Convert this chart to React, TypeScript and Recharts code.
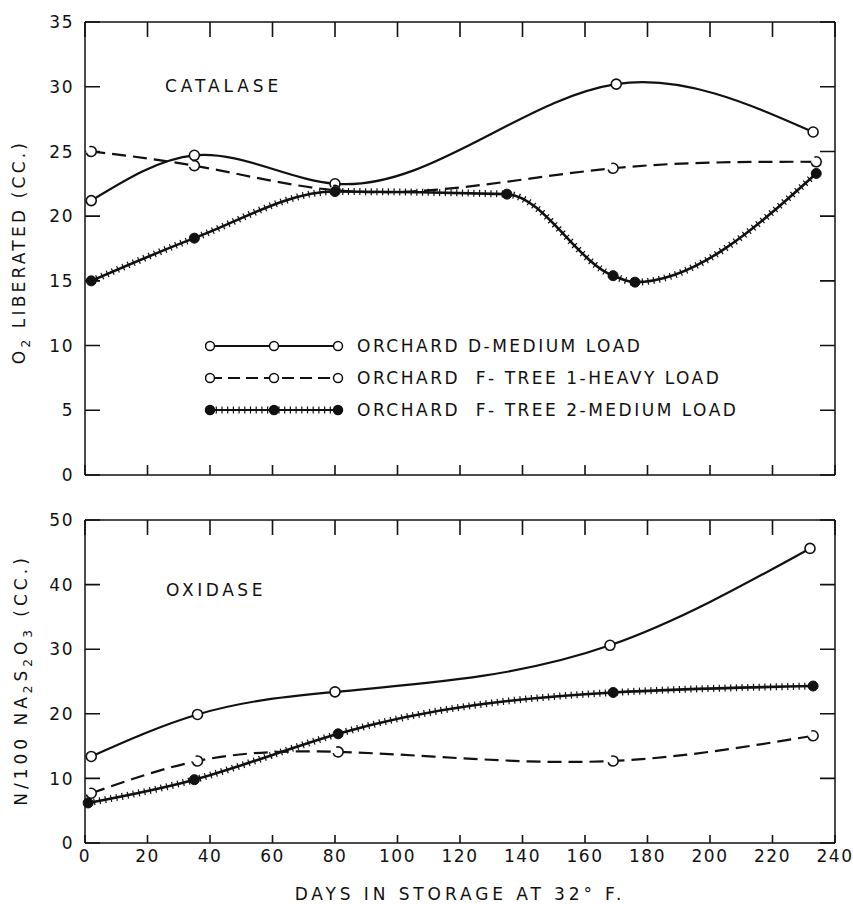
import React from 'react';
import { LineChart, Line, XAxis, YAxis, Legend, Customized } from 'recharts';

const FONT = '"DejaVu Sans", "Liberation Sans", sans-serif';
const INK = '#111';

// ---- axis ticks ----
const dayTicks = [0, 20, 40, 60, 80, 100, 120, 140, 160, 180, 200, 220, 240];
const catalaseTicks = [0, 5, 10, 15, 20, 25, 30, 35];
const oxidaseTicks = [0, 10, 20, 30, 40, 50];

// ---- CATALASE (O2 liberated, cc.) ----
const catDDays = [2, 35, 80, 170, 233];
const catDValues = [21.2, 24.7, 22.5, 30.2, 26.5];
const catF1Days = [2, 35, 80, 169, 234];
const catF1Values = [25.0, 23.9, 22.0, 23.7, 24.2];
const catF2Days = [2, 35, 80, 135, 169, 176, 234];
const catF2Values = [15.0, 18.3, 21.9, 21.7, 15.4, 14.9, 23.3];

// ---- OXIDASE (N/100 Na2S2O3, cc.) ----
const oxDDays = [2, 36, 80, 168, 232];
const oxDValues = [13.4, 19.9, 23.4, 30.6, 45.6];
const oxF1Days = [2, 36, 81, 169, 233];
const oxF1Values = [7.7, 12.7, 14.1, 12.7, 16.6];
const oxF2Days = [1, 35, 81, 169, 233];
const oxF2Values = [6.2, 9.8, 16.9, 23.3, 24.3];

const legendLabels = [
  'ORCHARD D-MEDIUM LOAD',
  'ORCHARD  F- TREE 1-HEAVY LOAD',
  'ORCHARD  F- TREE 2-MEDIUM LOAD',
];

const zip = (days: number[], vals: number[]) => days.map((day, i) => ({ day, value: vals[i] }));

const catD = zip(catDDays, catDValues);
const catF1 = zip(catF1Days, catF1Values);
const catF2 = zip(catF2Days, catF2Values);
const oxD = zip(oxDDays, oxDValues);
const oxF1 = zip(oxF1Days, oxF1Values);
const oxF2 = zip(oxF2Days, oxF2Values);

// ---- layout (chart margins + axis sizes) ----
const CHART_W = 853;
const M_LEFT = 25, M_RIGHT = 8, Y_W = 60, YR_W = 10, XT_H = 10;
const PLOT_L = M_LEFT + Y_W;
const PLOT_R = CHART_W - M_RIGHT - YR_W;
const TOP_H = 495, TOP_M = { top: 12, right: M_RIGHT, bottom: 5, left: M_LEFT }, TOP_XB_H = 15;
const BOT_H = 414, BOT_M = { top: 20, right: M_RIGHT, bottom: 11, left: M_LEFT }, BOT_XB_H = 50;

// natural cubic spline y(x) (smooth hand-drawn style curve through the points)
const xSpline = (context: any) => {
  let xs: number[] = [];
  let ys: number[] = [];
  return {
    areaStart() {},
    areaEnd() {},
    lineStart() { xs = []; ys = []; },
    point(x: number, y: number) { xs.push(+x); ys.push(+y); },
    lineEnd() {
      const n = xs.length;
      if (n === 0) return;
      context.moveTo(xs[0], ys[0]);
      if (n === 1) return;
      if (n === 2) { context.lineTo(xs[1], ys[1]); return; }
      const h: number[] = [];
      for (let i = 0; i < n - 1; i++) h[i] = xs[i + 1] - xs[i];
      const m: number[] = new Array(n).fill(0);
      const b: number[] = [], c: number[] = [], a: number[] = [], r: number[] = [];
      for (let i = 1; i < n - 1; i++) {
        a[i] = h[i - 1];
        b[i] = 2 * (h[i - 1] + h[i]);
        c[i] = h[i];
        r[i] = 6 * ((ys[i + 1] - ys[i]) / h[i] - (ys[i] - ys[i - 1]) / h[i - 1]);
      }
      for (let i = 2; i < n - 1; i++) {
        const w = a[i] / b[i - 1];
        b[i] -= w * c[i - 1];
        r[i] -= w * r[i - 1];
      }
      m[n - 2] = r[n - 2] / b[n - 2];
      for (let i = n - 3; i >= 1; i--) m[i] = (r[i] - c[i] * m[i + 1]) / b[i];
      for (let i = 0; i < n - 1; i++) {
        const hi = h[i];
        const s = (ys[i + 1] - ys[i]) / hi;
        const d0 = s - (hi * (2 * m[i] + m[i + 1])) / 6;
        const d1 = s + (hi * (m[i] + 2 * m[i + 1])) / 6;
        context.bezierCurveTo(xs[i] + hi / 3, ys[i] + (d0 * hi) / 3, xs[i + 1] - hi / 3, ys[i + 1] - (d1 * hi) / 3, xs[i + 1], ys[i + 1]);
      }
    },
  };
};

const openDot = { r: 5, fill: '#fff', stroke: INK, strokeWidth: 1.6 };
const filledDot = { r: 5, fill: INK, stroke: INK, strokeWidth: 1 };
const axisLine = { stroke: INK, strokeWidth: 1.5 };

// custom tick labels: tickSize 0 and tickMargin 11, so the axis line lies 11px from (x, y)
const LeftTick = (p: any) => {
  const px = Number(p.x);
  const py = Number(p.y);
  return (
    <text x={px} y={py} dy="0.36em" textAnchor="end" fontFamily={FONT} fontSize={17}
      letterSpacing={1.5} fill={INK}>{p.payload.value}</text>
  );
};
const BottomTickBare = (p: any) => {
  const px = Number(p.x);
  const py = Number(p.y);
  return (
    <g>
      <path d={`M${px},${py - 11}v-10`} stroke={INK} strokeWidth={1.6} fill="none" />
    </g>
  );
};
const BottomTickLabel = (p: any) => {
  const px = Number(p.x);
  const py = Number(p.y);
  return (
    <g>
      <path d={`M${px},${py - 11}v-8`} stroke={INK} strokeWidth={1.6} fill="none" />
      <text x={px} y={py + 8} textAnchor="middle" fontFamily={FONT} fontSize={17}
        letterSpacing={1.5} fill={INK}>{p.payload.value}</text>
    </g>
  );
};

// inward frame tick marks on the left, right and top edges of a panel
const frameTickMarks = (plotTop: number, plotBottom: number, yTicks: number[], yMax: number) => {
  const yPos = (v: number) => plotBottom - (v / yMax) * (plotBottom - plotTop);
  const xPos = (d: number) => PLOT_L + (d / 240) * (PLOT_R - PLOT_L);
  const parts: string[] = [];
  yTicks.forEach((v) => {
    const y = yPos(v);
    parts.push(`M${PLOT_L},${y}h15`);
    parts.push(`M${PLOT_R},${y}h-15`);
  });
  dayTicks.forEach((d) => {
    parts.push(`M${xPos(d)},${plotTop}v15`);
  });
  return <path d={parts.join('')} stroke={INK} strokeWidth={1.6} fill="none" />;
};

const LegendMarker = ({ kind }: { kind: number }) => {
  const dot = kind === 2 ? { fill: INK } : { fill: '#fff' };
  return (
    <svg width={140} height={16} style={{ display: 'block' }}>
      <line x1={5} x2={133} y1={8} y2={8} stroke={INK} strokeWidth={2}
        strokeDasharray={kind === 1 ? '12 6' : undefined} />
      {kind === 2 && (
        <line x1={5} x2={133} y1={8} y2={8} stroke={INK} strokeWidth={7} strokeDasharray="1.2 4.5" />
      )}
      {[5, 69, 133].map((cx) => (
        <circle key={cx} cx={cx} cy={8} r={4.5} stroke={INK} strokeWidth={1.5} {...dot} />
      ))}
    </svg>
  );
};

const renderLegend = () => (
  <div style={{ fontFamily: FONT }}>
    {legendLabels.map((lab, i) => (
      <div key={lab} style={{ display: 'flex', alignItems: 'center', height: 20, marginBottom: 12 }}>
        <LegendMarker kind={i} />
        <span style={{ marginLeft: 12, fontSize: 17, letterSpacing: 2.5, color: INK, whiteSpace: 'pre', lineHeight: '20px' }}>{lab}</span>
      </div>
    ))}
  </div>
);

const TOP_PLOT_TOP = TOP_M.top + XT_H;
const TOP_PLOT_BOTTOM = TOP_H - TOP_M.bottom - TOP_XB_H;
const BOT_PLOT_TOP = BOT_M.top + XT_H;
const BOT_PLOT_BOTTOM = BOT_H - BOT_M.bottom - BOT_XB_H;

const TopTexts = () => (
  <g fontFamily={FONT} fill={INK}>
    {frameTickMarks(TOP_PLOT_TOP, TOP_PLOT_BOTTOM, catalaseTicks, 35)}
    <text x={165} y={92} fontSize={17} letterSpacing={3.9}>CATALASE</text>
    <text transform="translate(25,252) rotate(-90)" textAnchor="middle" fontSize={17} letterSpacing={3.2}>
      O<tspan dy={5} fontSize={12}>2</tspan><tspan dy={-5}> LIBERATED (CC.)</tspan>
    </text>
  </g>
);

const BottomTexts = () => (
  <g fontFamily={FONT} fill={INK}>
    {frameTickMarks(BOT_PLOT_TOP, BOT_PLOT_BOTTOM, oxidaseTicks, 50)}
    <text x={166} y={106} fontSize={17} letterSpacing={3.6}>OXIDASE</text>
    <text transform="translate(27,190) rotate(-90)" textAnchor="middle" fontSize={17} letterSpacing={4}>
      N/100 NA<tspan dy={5} fontSize={12}>2</tspan><tspan dy={-5}>S</tspan><tspan dy={5} fontSize={12}>2</tspan><tspan dy={-5}>O</tspan><tspan dy={5} fontSize={12}>3</tspan><tspan dy={-5}> (CC.)</tspan>
    </text>
    <text x={460} y={410} textAnchor="middle" fontSize={17} letterSpacing={3.9}>DAYS IN STORAGE AT 32° F.</text>
  </g>
);

const Series = (d: any[], f1: any[], f2: any[], f2Type: any) => [
  <Line key="d" data={d} dataKey="value" xAxisId="b" yAxisId="l" type={xSpline as any} stroke={INK}
    strokeWidth={2.2} dot={openDot} isAnimationActive={false} />,
  <Line key="f1" data={f1} dataKey="value" xAxisId="b" yAxisId="l" type={xSpline as any} stroke={INK}
    strokeWidth={2.2} strokeDasharray="14 7" dot={openDot} isAnimationActive={false} />,
  <Line key="f2h" data={f2} dataKey="value" xAxisId="b" yAxisId="l" type={f2Type} stroke={INK}
    strokeWidth={7} strokeDasharray="1.2 4.5" dot={false} legendType="none" isAnimationActive={false} />,
  <Line key="f2" data={f2} dataKey="value" xAxisId="b" yAxisId="l" type={f2Type} stroke={INK}
    strokeWidth={2.6} dot={filledDot} isAnimationActive={false} />,
];

const Axes = (yTicks: number[], yMax: number, bottomHeight: number, labelled: boolean) => [
  <XAxis key="xb" xAxisId="b" type="number" dataKey="day" domain={[0, 240]} ticks={dayTicks} height={bottomHeight}
    tickSize={0} tickMargin={11} tickLine={false} axisLine={axisLine} interval={0}
    tick={labelled ? BottomTickLabel : BottomTickBare} />,
  <XAxis key="xt" xAxisId="t" orientation="top" type="number" dataKey="day" domain={[0, 240]} ticks={dayTicks}
    height={XT_H} tickLine={false} axisLine={axisLine} tick={false} />,
  <YAxis key="yl" yAxisId="l" type="number" domain={[0, yMax]} ticks={yTicks} width={Y_W} interval={0}
    tickSize={0} tickMargin={11} tickLine={false} axisLine={axisLine} tick={LeftTick} />,
  <YAxis key="yr" yAxisId="r" orientation="right" type="number" domain={[0, yMax]} ticks={yTicks} width={YR_W}
    tickLine={false} axisLine={axisLine} tick={false} />,
];

export default function App() {
  return (
    <div style={{ position: 'absolute', left: 0, top: 0, width: 853, height: 904, background: '#fff' }}>
      <div style={{ position: 'absolute', left: 0, top: 0 }}>
        <LineChart width={CHART_W} height={TOP_H} margin={TOP_M}>
          {Axes(catalaseTicks, 35, TOP_XB_H, false)}
          {Series(catD, catF1, catF2, 'monotoneX')}
          <Legend content={renderLegend} layout="vertical" align="center" verticalAlign="middle"
            wrapperStyle={{ position: 'absolute', left: 205, top: 336, width: 560 }} />
          <Customized component={TopTexts} />
        </LineChart>
      </div>
      <div style={{ position: 'absolute', left: 0, top: 490 }}>
        <LineChart width={CHART_W} height={BOT_H} margin={BOT_M}>
          {Axes(oxidaseTicks, 50, BOT_XB_H, true)}
          {Series(oxD, oxF1, oxF2, xSpline)}
          <Customized component={BottomTexts} />
        </LineChart>
      </div>
    </div>
  );
}
